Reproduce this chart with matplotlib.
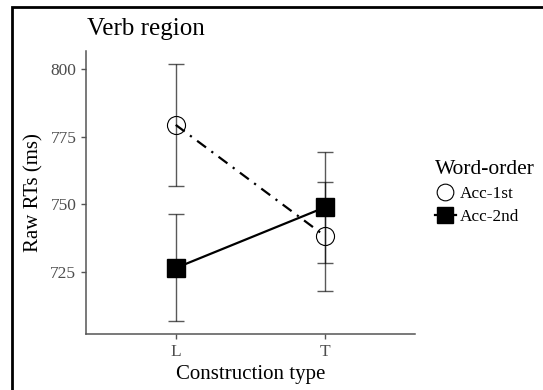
import matplotlib
matplotlib.use("Agg")
import matplotlib.pyplot as plt
from matplotlib.patches import Rectangle
from matplotlib.lines import Line2D

plt.rcParams['font.family'] = ['Liberation Serif', 'DejaVu Serif']

# data
constructions = ["L", "T"]
acc1_mean = [779.3, 738.3]
acc1_low  = [756.8, 728.4]
acc1_high = [801.8, 758.4]
acc2_mean = [726.6, 749.0]
acc2_low  = [707.0, 718.0]
acc2_high = [746.5, 769.2]

x = [1, 2]
DOTDASH = (0, (5, 3, 1, 3))

fig = plt.figure(figsize=(5.43, 3.9), dpi=100)
ax = fig.add_axes([86 / 543, 1 - 334 / 390, (415 - 86) / 543, (334 - 51) / 390])

# error bars
for means, lo, hi in [(acc1_mean, acc1_low, acc1_high), (acc2_mean, acc2_low, acc2_high)]:
    yerr = [[m - l for m, l in zip(means, lo)], [h - m for m, h in zip(means, hi)]]
    ax.errorbar(x, means, yerr=yerr, fmt='none', ecolor='black', alpha=0.65,
                elinewidth=1.0, capsize=5.5, capthick=1.0, zorder=2)

# lines + markers
ax.plot(x, acc1_mean, color='black', lw=1.6, linestyle=DOTDASH,
        marker='o', markersize=13, markerfacecolor='none', markeredgecolor='black',
        markeredgewidth=0.8, zorder=3)
ax.plot(x, acc2_mean, color='black', lw=1.6, linestyle='-',
        marker='s', markersize=12.5, markerfacecolor='black', markeredgecolor='black',
        zorder=3)

ax.set_xlim(0.4, 2.6)
ax.set_ylim(702.3, 806.5)
ax.set_xticks(x)
ax.set_xticklabels(constructions)
ax.set_yticks([725, 750, 775, 800])

for side in ['top', 'right']:
    ax.spines[side].set_visible(False)
for side in ['left', 'bottom']:
    ax.spines[side].set_color('#555555')
    ax.spines[side].set_linewidth(1.1)
ax.tick_params(colors='#555555', labelcolor='#4d4d4d', labelsize=12.5,
               length=3.5, width=1.0, pad=3.5)

ax.set_xlabel("Construction type", fontsize=15, labelpad=4)
ax.set_ylabel("Raw RTs (ms)", fontsize=15)
ax.yaxis.set_label_coords(-0.128, 0.5)
fig.text(87 / 543, 1 - 35 / 390, "Verb region", fontsize=18, va='baseline', ha='left')

# legend
handles = [
    Line2D([], [], color='black', lw=0, marker='o',
           markersize=12, markerfacecolor='none', markeredgewidth=0.8),
    Line2D([], [], color='black', lw=1.6, marker='s', markersize=12,
           markerfacecolor='black'),
]
leg = fig.legend(handles, ["Acc-1st", "Acc-2nd"], title="Word-order",
                 loc='upper left', bbox_to_anchor=(435 / 543, 1 - 160 / 390),
                 frameon=False, fontsize=12.4, title_fontsize=15.5,
                 handlelength=1.2, handletextpad=0.25, labelspacing=0.4,
                 borderaxespad=0, borderpad=0)
leg._legend_box.align = "left"

# figure border
fig.patches.append(Rectangle((12 / 543, -0.05), 1.2, 1 - 7 / 390 + 0.05,
                             transform=fig.transFigure, fill=False,
                             edgecolor='black', lw=2, zorder=10))

fig.savefig("out.png", dpi=100)
